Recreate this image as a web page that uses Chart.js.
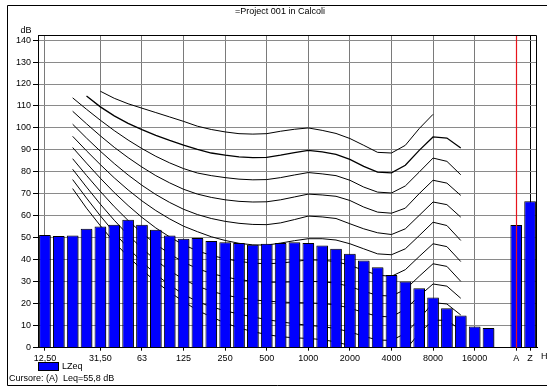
<!DOCTYPE html>
<html>
<head>
<meta charset="utf-8">
<script src="https://cdn.jsdelivr.net/npm/chart.js@4.4.1/dist/chart.umd.min.js"></script>
<style>
  html, body { margin: 0; padding: 0; background: #fff; overflow: hidden; }
</style>
</head>
<body>
<canvas id="spettro" width="547" height="387"></canvas>
<script>
// 1/3 octave bands, then an empty slot and the A / Z totals
var bande = ['12,50','16','20','25','31,50','40','50','63','80','100','125','160','200','250','315','400',
  '500','630','800','1000','1250','1600','2000','2500','3150','4000','5000','6300','8000','10000','12500',
  '16000','20000','','A','Z'];

// bands that carry a label and a vertical grid line
var bandeEtichetta = [0, 4, 7, 10, 13, 16, 19, 22, 25, 28, 31, 34, 35];

var lzeq = [51.3, 50.8, 51.1, 54.1, 55.2, 56.0, 58.2, 55.9, 53.7, 51.1, 49.6, 49.9, 48.5, 48.0, 47.6, 46.8,
  47.3, 47.7, 48.0, 47.7, 46.5, 45.0, 42.7, 39.7, 36.6, 33.1, 30.1, 27.0, 22.8, 17.9, 14.6, 9.6, 9.0,
  null, 55.8, 66.7];

// equal loudness contours (phon), one value per band
var phon100 = [null, null, null, null, 116.7, 113.5, 111.0, 109.0, 107.0, 105.0, 103.0, 100.8, 99.3, 98.2, 97.4, 97.2,
  97.4, 98.5, 99.4, 100.0, 98.9, 97.5, 95.2, 92.1, 88.9, 88.6, 92.1, 99.7, 106.2, null, null, null, null, null, null, null];
var phon90 = [null, null, null, 114.5, 109.6, 105.5, 102.1, 99.2, 96.6, 94.3, 92.2, 90.3, 88.6, 87.6, 86.8, 86.5,
  86.6, 87.6, 88.8, 89.8, 89.1, 88.0, 85.7, 82.5, 79.9, 79.6, 83.0, 89.8, 95.9, 95.4, 90.9, null, null, null, null, null];
var phon80 = [null, null, 113.7, 108.5, 103.5, 98.8, 94.5, 90.6, 87.1, 84.1, 81.5, 79.5, 78.3, 77.4, 76.7, 76.4,
  76.5, 77.4, 78.6, 79.7, 79.1, 78.3, 76.2, 73.1, 70.8, 70.4, 73.6, 79.9, 86.3, 84.8, 78.7, null, null, null, null, null];
var phon70 = [null, null, 107.6, 101.9, 96.4, 91.2, 86.5, 82.2, 78.3, 75.0, 72.1, 69.9, 68.4, 67.3, 66.6, 66.3,
  66.4, 67.3, 68.6, 69.9, 69.5, 68.9, 67.0, 64.0, 61.7, 61.2, 63.5, 70.1, 76.2, 74.9, 69.3, null, null, null, null, null];
var phon60 = [null, null, 101.7, 95.4, 89.4, 83.8, 78.6, 73.9, 69.7, 66.1, 63.0, 60.6, 58.8, 57.5, 56.6, 56.1,
  56.0, 56.8, 58.3, 59.9, 59.5, 58.8, 56.4, 54.1, 52.3, 51.5, 54.1, 60.2, 66.3, 65.1, 59.4, null, null, null, null, null];
var phon50 = [null, null, 96.2, 89.6, 83.3, 77.3, 71.8, 66.8, 62.4, 58.6, 55.3, 52.8, 50.5, 48.8, 47.5, 46.8,
  46.7, 47.6, 48.7, 49.6, 49.6, 49.0, 47.3, 45.0, 42.7, 42.3, 45.0, 51.0, 57.1, 55.6, 48.8, null, null, null, null, null];
var phon40 = [null, null, 91.1, 84.0, 77.1, 70.6, 64.7, 59.3, 54.5, 50.4, 46.8, 44.1, 42.0, 40.5, 39.3, 38.5,
  38.2, 38.5, 39.2, 40.0, 39.8, 39.2, 37.5, 35.2, 33.0, 32.5, 35.5, 41.5, 47.3, 46.0, 39.2, null, null, null, null, null];
var phon30 = [null, null, 86.0, 78.4, 71.1, 64.2, 57.9, 52.2, 47.1, 42.7, 38.9, 36.0, 33.8, 32.2, 31.0, 30.2,
  29.8, 29.8, 30.0, 30.2, 30.0, 29.4, 27.8, 25.7, 23.8, 23.5, 26.5, 32.5, 38.2, 37.0, 30.2, null, null, null, null, null];
var phon20 = [null, null, 81.2, 73.1, 65.3, 58.0, 51.3, 45.2, 39.8, 35.1, 31.1, 28.0, 25.7, 24.0, 22.7, 21.8,
  21.2, 20.8, 20.5, 20.4, 20.1, 19.5, 18.0, 16.0, 14.3, 14.0, 17.5, 23.5, 29.0, 28.0, 22.5, null, null, null, null, null];
var phon10 = [null, null, 76.5, 68.1, 60.0, 52.4, 45.4, 39.1, 33.4, 28.5, 24.3, 21.0, 18.6, 16.8, 15.3, 14.0,
  12.8, 11.8, 10.9, 10.2, 9.6, 8.7, 7.2, 5.2, 3.5, 3.3, 6.5, 13.0, 20.5, 19.9, 14.9, null, null, null, null, null];
var phon0 = [null, null, 72.4, 63.5, 55.5, 48.0, 41.5, 35.5, 30.0, 25.3, 21.0, 17.0, 14.0, 11.3, 9.0, 7.3,
  6.0, 5.0, 4.5, 4.2, 3.7, 2.6, 1.0, -1.2, -3.6, -3.9, -1.1, 6.6, 12.5, 12.5, 8.0, null, null, null, null, null];

var curve = [phon100, phon90, phon80, phon70, phon60, phon50, phon40, phon30, phon20, phon10, phon0];

var FONT = "'Liberation Sans', Arial, sans-serif";

var datasets = [{
  type: 'bar',
  label: 'LZeq',
  data: lzeq,
  backgroundColor: '#0000ff',
  borderColor: '#000',
  borderWidth: 1,
  barPercentage: 0.84,
  categoryPercentage: 1,
  order: 0
}];
curve.forEach(function(c, k) {
  datasets.push({
    type: 'line',
    label: (100 - k * 10) + ' phon',
    data: c,
    borderColor: '#000',
    borderWidth: k === 1 ? 1.3 : 1,
    pointRadius: 0,
    tension: 0,
    fill: false,
    spanGaps: false,
    order: 1
  });
});

var decorazioni = {
  id: 'decorazioni',
  beforeDraw: function(chart) {
    var ctx = chart.ctx;
    ctx.save();
    ctx.fillStyle = '#fff';
    ctx.fillRect(0, 0, chart.width, chart.height);
    ctx.restore();
  },
  beforeDatasetDraw: function(chart, args) {
    if (args.meta.type === 'bar') {
      var ctx = chart.ctx;
      ctx.save();
      ctx.shadowColor = 'rgba(0,0,0,0.45)';
      ctx.shadowOffsetX = 1.5;
      ctx.shadowOffsetY = 1;
      ctx.shadowBlur = 0;
    }
  },
  afterDatasetDraw: function(chart, args) {
    if (args.meta.type === 'bar') chart.ctx.restore();
  },
  afterDatasetsDraw: function(chart) {
    var ctx = chart.ctx, a = chart.chartArea;
    var xA = Math.round(chart.scales.x.getPixelForValue(34)) + 0.5;
    ctx.save();
    ctx.strokeStyle = '#e8141c';
    ctx.lineWidth = 1.2;
    ctx.beginPath();
    ctx.moveTo(xA, a.top);
    ctx.lineTo(xA, a.bottom);
    ctx.stroke();
    // plot frame
    ctx.strokeStyle = '#000';
    ctx.lineWidth = 1;
    ctx.beginPath();
    ctx.moveTo(Math.round(a.left) + 0.5, Math.round(a.top) + 0.5);
    ctx.lineTo(Math.round(a.right) - 0.5, Math.round(a.top) + 0.5);
    ctx.lineTo(Math.round(a.right) - 0.5, Math.round(a.bottom));
    ctx.stroke();
    ctx.restore();
  },
  afterDraw: function(chart) {
    var ctx = chart.ctx;
    ctx.save();
    // outer frame
    ctx.strokeStyle = '#000';
    ctx.lineWidth = 1;
    ctx.beginPath();
    ctx.moveTo(548, 5.5);
    ctx.lineTo(7.5, 5.5);
    ctx.lineTo(7.5, 385.5);
    ctx.lineTo(548, 385.5);
    ctx.stroke();

    ctx.fillStyle = '#000';
    ctx.font = '9px ' + FONT;
    ctx.textBaseline = 'middle';
    ctx.textAlign = 'center';
    ctx.fillText('=Project 001 in Calcoli', 280, 12);
    ctx.fillText('dB', 26, 31);
    ctx.textAlign = 'left';
    ctx.fillText('Hz', 541, 357);

    // legend
    ctx.fillStyle = '#0000ff';
    ctx.fillRect(38, 362, 20, 8);
    ctx.strokeRect(38.5, 362.5, 20, 8);
    ctx.fillStyle = '#000';
    ctx.fillText('LZeq', 62, 366.5);
    ctx.fillText('Cursore: (A)  Leq=55,8 dB', 9, 379);
    ctx.restore();
  }
};

new Chart(document.getElementById('spettro'), {
  type: 'bar',
  data: { labels: bande, datasets: datasets },
  plugins: [decorazioni],
  options: {
    responsive: false,
    devicePixelRatio: 1,
    animation: false,
    layout: { padding: { top: 35, right: 10, left: 0, bottom: 0 } },
    plugins: {
      legend: { display: false },
      tooltip: { enabled: false },
      title: { display: false }
    },
    scales: {
      x: {
        type: 'category',
        offset: true,
        grid: {
          offset: false,
          lineWidth: 1,
          tickLength: 3,
          color: function(c) {
            if (!c.tick) return '#7a7a7a';
            if (c.tick.value === 35) return '#000';
            if (c.tick.value === 34) return 'rgba(0,0,0,0)';
            return '#7a7a7a';
          },
          tickColor: '#000'
        },
        border: { color: '#000', width: 1 },
        ticks: {
          autoSkip: false,
          maxRotation: 0,
          padding: 2,
          color: '#000',
          font: { family: FONT, size: 9 }
        },
        afterBuildTicks: function(scale) {
          scale.ticks = scale.ticks.filter(function(t) { return bandeEtichetta.indexOf(t.value) >= 0; });
        },
        afterFit: function(scale) { scale.height = 39.3; }
      },
      y: {
        min: 0,
        max: 142.3,
        grid: { color: '#8a8a8a', lineWidth: 1, tickLength: 5, tickColor: '#000' },
        border: { color: '#000', width: 1 },
        ticks: {
          stepSize: 10,
          includeBounds: false,
          padding: 2,
          color: '#000',
          font: { family: FONT, size: 9 }
        },
        afterFit: function(scale) { scale.width = 38; }
      }
    }
  }
});
</script>
</body>
</html>
